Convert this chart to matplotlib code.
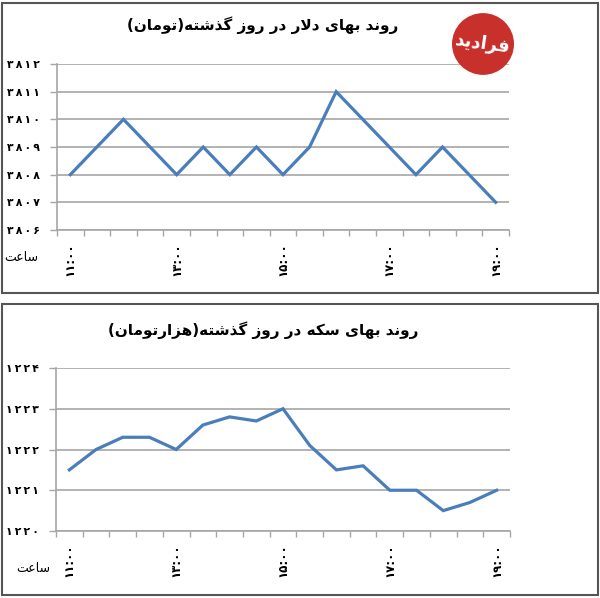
import matplotlib
matplotlib.use('Agg')
import matplotlib.pyplot as plt
from matplotlib.patches import Rectangle, Circle

# داده‌ها
dollar_vals = [3808, 3809, 3810, 3809, 3808, 3809, 3808, 3809, 3808,
               3809, 3811, 3810, 3809, 3808, 3809, 3808, 3807]
coin_vals = [1221.5, 1222.0, 1222.3, 1222.3, 1222.0, 1222.6, 1222.8, 1222.7, 1223.0,
             1222.1, 1221.5, 1221.6, 1221.0, 1221.0, 1220.5, 1220.7, 1221.0]
time_labels = ['۱۱:۰۰', '۱۳:۰۰', '۱۵:۰۰', '۱۷:۰۰', '۱۹:۰۰']
time_idx = [0, 4, 8, 12, 16]
dollar_ticks = [3806, 3807, 3808, 3809, 3810, 3811, 3812]
coin_ticks = [1220, 1221, 1222, 1223, 1224]
title_dollar = 'روند بهای دلار در روز گذشته(تومان)'
title_coin = 'روند بهای سکه در روز گذشته(هزارتومان)'
hour_label = 'ساعت'
logo_text = 'فرادید'

# شکل‌دهی ساده حروف فارسی (isolated, final, initial, medial)
FORMS = {
    'ا': ('\uFE8D', '\uFE8E', None, None),
    'ب': ('\uFE8F', '\uFE90', '\uFE91', '\uFE92'),
    'ت': ('\uFE95', '\uFE96', '\uFE97', '\uFE98'),
    'د': ('\uFEA9', '\uFEAA', None, None),
    'ذ': ('\uFEAB', '\uFEAC', None, None),
    'ر': ('\uFEAD', '\uFEAE', None, None),
    'ز': ('\uFEAF', '\uFEB0', None, None),
    'س': ('\uFEB1', '\uFEB2', '\uFEB3', '\uFEB4'),
    'ش': ('\uFEB5', '\uFEB6', '\uFEB7', '\uFEB8'),
    'ع': ('\uFEC9', '\uFECA', '\uFECB', '\uFECC'),
    'ف': ('\uFED1', '\uFED2', '\uFED3', '\uFED4'),
    'ل': ('\uFEDD', '\uFEDE', '\uFEDF', '\uFEE0'),
    'م': ('\uFEE1', '\uFEE2', '\uFEE3', '\uFEE4'),
    'ن': ('\uFEE5', '\uFEE6', '\uFEE7', '\uFEE8'),
    'ه': ('\uFEE9', '\uFEEA', '\uFEEB', '\uFEEC'),
    'و': ('\uFEED', '\uFEEE', None, None),
    'ی': ('\uFBFC', '\uFBFD', '\uFBFE', '\uFBFF'),
    'ک': ('\uFB8E', '\uFB8F', '\uFB90', '\uFB91'),
    'گ': ('\uFB92', '\uFB93', '\uFB94', '\uFB95'),
    'ﻻ': ('\uFEFB', '\uFEFC', None, None),
}


def fa(text):
    text = text.replace('لا', 'ﻻ')
    out = []
    for i, ch in enumerate(text):
        if ch not in FORMS:
            out.append(ch)
            continue
        prev = text[i - 1] if i > 0 else ''
        nxt = text[i + 1] if i + 1 < len(text) else ''
        join_prev = prev in FORMS and FORMS[prev][2] is not None
        join_next = nxt in FORMS and FORMS[ch][2] is not None
        iso, fin, ini, med = FORMS[ch]
        if join_prev and join_next:
            out.append(med)
        elif join_prev:
            out.append(fin)
        elif join_next:
            out.append(ini)
        else:
            out.append(iso)
    swap = {'(': ')', ')': '('}
    return ''.join(swap.get(c, c) for c in reversed(out))


def fa_num(n):
    return '\u2009'.join('۰۱۲۳۴۵۶۷۸۹'[int(d)] for d in str(int(n)))


W, H = 600, 598
fig = plt.figure(figsize=(W / 100, H / 100), dpi=100)
fig.patch.set_facecolor('white')

LINE = '#4a7ebb'
GRID = '#a6a6a6'


def px_axes(x0, y0, x1, y1):
    return fig.add_axes([x0 / W, 1 - y1 / H, (x1 - x0) / W, (y1 - y0) / H])


def panel(top, bottom, values, ticks, title, title_y, ax_box, hour_xy):
    fig.add_artist(Rectangle((2 / W, 1 - bottom / H), 596 / W, (bottom - top) / H,
                             transform=fig.transFigure, fill=False,
                             edgecolor='#555555', linewidth=1.5))
    fig.text(263 / W, 1 - title_y / H, fa(title), ha='center', va='center',
             fontsize=11, fontweight='bold', family='DejaVu Sans')

    ax = px_axes(*ax_box)
    x = list(range(len(values)))
    ax.plot(x, values, color=LINE, linewidth=2.3, solid_joinstyle='miter')
    ax.set_xlim(-0.5, len(values) - 0.5)
    ax.set_ylim(ticks[0], ticks[-1])
    ax.set_yticks(ticks)
    ax.set_yticklabels([fa_num(t) for t in ticks], fontsize=7.8, fontweight='bold')
    ax.yaxis.grid(True, color=GRID, linewidth=1.2)
    ax.set_axisbelow(True)
    ax.set_xticks([i - 0.5 for i in range(len(values) + 1)])
    ax.set_xticklabels([])
    ax.tick_params(axis='x', length=4, width=1, color=GRID, direction='out')
    ax.tick_params(axis='y', length=5, width=1, color=GRID, direction='out', pad=7)
    for s in ['top', 'right']:
        ax.spines[s].set_visible(False)
    for s in ['left', 'bottom']:
        ax.spines[s].set_color(GRID)
        ax.spines[s].set_linewidth(1.2)

    for i, lab in zip(time_idx, time_labels):
        ax.text(i, -0.075, lab, transform=ax.get_xaxis_transform(), rotation=90,
                ha='center', va='top', fontsize=8.5, fontweight='bold')
    fig.text(hour_xy[0] / W, 1 - hour_xy[1] / H, fa(hour_label), ha='center',
             va='center', fontsize=9)
    return ax


panel(3, 293, dollar_vals, dollar_ticks, title_dollar, 25, (57, 64, 509, 230), (21, 258))
panel(304, 595, coin_vals, coin_ticks, title_coin, 330, (56, 368, 510, 531), (33, 568))

# لوگو
fig.add_artist(Circle((483 / W, 1 - 44 / H), 31 / W, transform=fig.transFigure,
                      facecolor='#c8312b', edgecolor='none'))
fig.text(483 / W, 1 - 44 / H, fa(logo_text), ha='center', va='center',
         fontsize=13, fontweight='bold', color='white', rotation=-8)

plt.savefig('out.png', dpi=100)
